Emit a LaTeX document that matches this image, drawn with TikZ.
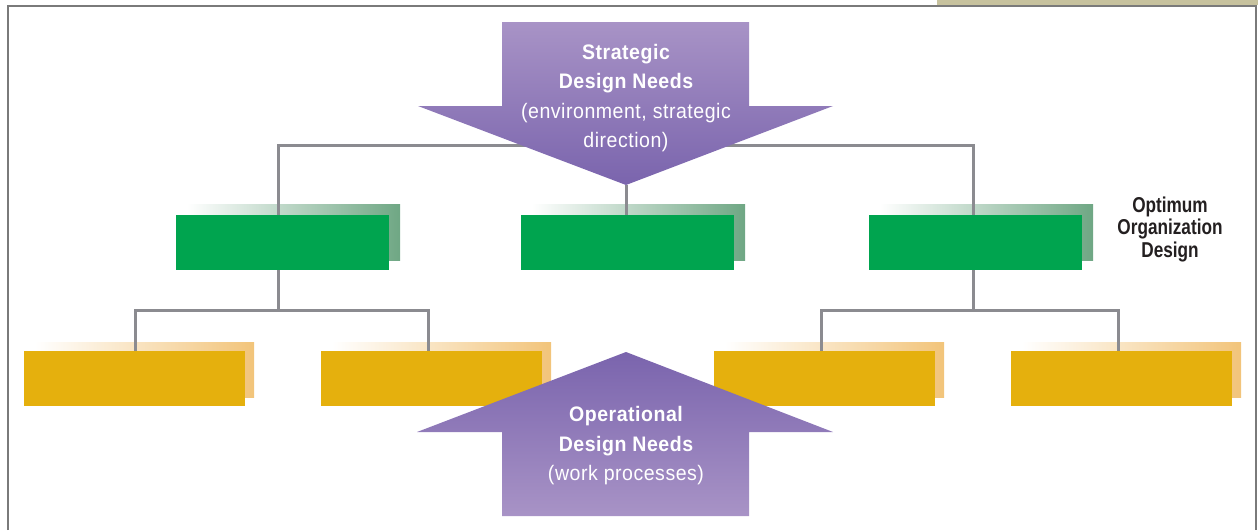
\documentclass[tikz,border=0pt]{standalone}
\usepackage{fontspec}
\setmainfont{Liberation Sans}
\newfontfamily\arrowfont[FakeStretch=0.93,LetterSpace=2.5]{Liberation Sans}
\newfontfamily\optfont[FakeStretch=0.8]{Liberation Sans}
\definecolor{purpleL}{HTML}{A893C6}
\definecolor{purpleD}{HTML}{7A64AD}
\definecolor{boxgreen}{HTML}{00A44F}
\definecolor{gshadow}{HTML}{6FA784}
\definecolor{boxyellow}{HTML}{E5B00D}
\definecolor{yshadow}{HTML}{F2C47A}
\definecolor{conncol}{HTML}{8B8B90}
\definecolor{tanbar}{HTML}{C7C29E}
\definecolor{framecol}{HTML}{7A7A7A}
\definecolor{optcol}{HTML}{231F20}
\pgfdeclarelayer{bg}
\pgfdeclarelayer{lines}
\pgfdeclarelayer{top}
\pgfsetlayers{bg,lines,main,top}
\tikzset{
  gbox/.style={fill=boxgreen, minimum width=213pt, minimum height=55pt, inner sep=0pt, draw=none},
  gshad/.style={left color=white, right color=gshadow, minimum width=213pt, minimum height=56pt, inner sep=0pt, draw=none},
  ybox/.style={fill=boxyellow, minimum width=221pt, minimum height=55pt, inner sep=0pt, draw=none},
  yshad/.style={left color=white, right color=yshadow, minimum width=219pt, minimum height=55pt, inner sep=0pt, draw=none},
  conn/.style={draw=conncol, line width=3pt},
  framestyle/.style={draw=framecol, line width=2pt},
  arrowtext/.style={text=white, align=center, inner sep=0pt, font=\arrowfont\fontsize{21}{29.5}\selectfont},
  opttext/.style={text=optcol, align=center, inner sep=0pt, font=\optfont\bfseries\fontsize{21.5}{22.5}\selectfont}
}
\begin{document}
\begin{tikzpicture}[x=1pt,y=-1pt]
\useasboundingbox (0,0) rectangle (1258,530);
% frame
\fill[tanbar] (937,0) rectangle (1258,5);
\draw[framestyle] (8,530) -- (8,6) -- (1256,6) -- (1256,530);

% main boxes
\node[gbox] (g1) at (282.5,242.5) {};
\node[gbox] (g2) at (627.5,242.5) {};
\node[gbox] (g3) at (975.5,242.5) {};
\node[ybox] (y1) at (134.5,378.5) {};
\node[ybox] (y2) at (431.5,378.5) {};
\node[ybox] (y3) at (824.5,378.5) {};
\node[ybox] (y4) at (1121.5,378.5) {};

% shadows
\begin{pgfonlayer}{bg}
\node[gshad] (g1s) at ([shift={(11,-10.5)}]g1.center) {};
\node[gshad] (g2s) at ([shift={(11,-10.5)}]g2.center) {};
\node[gshad] (g3s) at ([shift={(11,-10.5)}]g3.center) {};
\node[yshad] (y1s) at ([shift={(10,-9)}]y1.center) {};
\node[yshad] (y2s) at ([shift={(10,-9)}]y2.center) {};
\node[yshad] (y3s) at ([shift={(10,-9)}]y3.center) {};
\node[yshad] (y4s) at ([shift={(10,-9)}]y4.center) {};
\end{pgfonlayer}

% connectors
\coordinate (hub) at (626,145);
\coordinate (tip) at (626,185);
\coordinate (j1) at (278,310);
\coordinate (j3) at (973,310);
\begin{pgfonlayer}{lines}
\draw[conn] ([xshift=-4.5]g1.north) |- (hub) -| ([xshift=-2.5]g3.north);
\draw[conn] (tip) -- ([xshift=-1.5]g2.north);
\draw[conn] ([xshift=-4.5]g1.south) -- (j1);
\draw[conn] ([xshift=-2.5]g3.south) -- (j3);
\draw[conn] ([xshift=0.5]y1.north) |- (j1) -| ([xshift=-3.5]y2.north);
\draw[conn] ([xshift=-3.5]y3.north) |- (j3) -| ([xshift=-3.5]y4.north);
\end{pgfonlayer}

% arrows
\begin{pgfonlayer}{top}
\shade[top color=purpleL, bottom color=purpleD]
  (502,22) -- (749,22) -- (749,106) -- (833,106) -- (626,185) -- (418,106) -- (502,106) -- cycle;
\shade[top color=purpleD, bottom color=purpleL]
  (626,352) -- (833,432) -- (749,432) -- (749,516) -- (502,516) -- (502,432) -- (417,432) -- cycle;
\node[arrowtext] (strat) at (626,98) {\bfseries Strategic\\\bfseries Design Needs\\(environment, strategic\\direction)};
\node[arrowtext] (oper) at (626,446) {\bfseries Operational\\\bfseries Design Needs\\(work processes)};
\end{pgfonlayer}

\node[opttext] (opt) at (1170,229) {Optimum\\Organization\\Design};
\end{tikzpicture}
\end{document}
